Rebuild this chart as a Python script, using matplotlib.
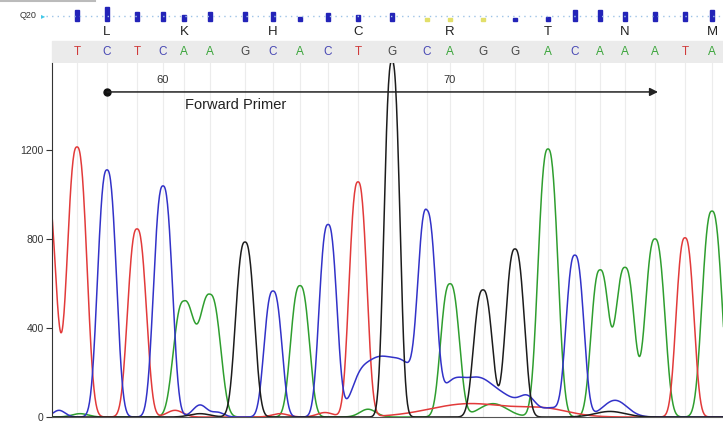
import numpy as np
import matplotlib
matplotlib.use("Agg")
import matplotlib.pyplot as plt
import matplotlib.transforms as mtransforms
from matplotlib.patches import Rectangle
from matplotlib.lines import Line2D

plt.rcParams['font.family'] = ['Liberation Sans', 'DejaVu Sans']

# base calls, scan position of each call, first base number
sequence = "TCTCAAGCACTGCAGGACAAATA"
base_scan = [77, 107, 137, 163, 184, 210, 245, 273, 300, 328, 358, 392,
             427, 450, 483, 515, 548, 575, 600, 625, 655, 685, 712]
first_base = 57

# called peak heights and widths (one per base)
peak_height = [1213, 1110, 845, 1038, 520, 550, 786, 566, 590, 863, 1055, 1600,
               840, 598, 571, 755, 1204, 724, 660, 672, 800, 805, 925]
peak_width = [9.5, 9.0, 9.0, 9.0, 10.2, 10.2, 9.0, 8.5, 9.0, 8.5, 8.5, 7.5,
              8.5, 9.0, 9.0, 9.0, 9.5, 8.5, 8.6, 9.3, 9.5, 8.5, 9.5]

# quality per base
quality = [44, 56, 36, 32, 24, 32, 32, 32, 14, 28, 24, 28,
           8, 8, 8, 12, 16, 40, 40, 32, 36, 36, 44]

# translation
amino = ['L', 'K', 'H', 'C', 'R', 'T', 'N', 'M']
amino_base = [1, 4, 7, 10, 13, 16, 19, 22]

# numbered bases
number_ticks = [60, 70]

# primer span (base index start/end)
primer_start = 1
primer_end = 20
primer_level = 1460

# partial peak at the left edge: (scan, height, width)
edge_peaks = {'T': [(46, 1050, 9.5)]}

# low background signal: (scan, height, width)
background = {
    'T': [(175, 30, 8), (280, 15, 8), (325, 20, 8), (470, 60, 40), (545, 32, 25)],
    'C': [(59, 30, 6), (200, 54, 7), (218, 20, 6), (358, 70, 8),
          (375, 230, 15), (405, 215, 15), (452, 140, 12), (478, 150, 14),
          (505, 80, 15), (528, 70, 8), (552, 40, 10), (615, 75, 12)],
    'A': [(80, 15, 8), (368, 35, 8), (493, 60, 14)],
    'G': [(200, 15, 10), (610, 25, 15)],
}

colors = {'T': '#e23a3a', 'C': '#3232c8', 'A': '#2f9e2f', 'G': '#1c1c1c'}
text_colors = {'T': '#d03a3a', 'C': '#4848b4', 'A': '#3aa53a', 'G': '#484848'}

scan = np.arange(36, 724, 0.5)
shape = 2.6  # peak shape exponent (2 = gaussian)


def peak(s, h, w, p):
    return h * np.exp(-0.5 * np.abs((scan - s) / w) ** p)


def trace(base):
    y = np.zeros_like(scan)
    for s, h, w, b in zip(base_scan, peak_height, peak_width, sequence):
        if b == base:
            y += peak(s, h, w, shape)
    for s, h, w in edge_peaks.get(base, []):
        y += peak(s, h, w, shape)
    for s, h, w in background[base]:
        y += peak(s, h, w, 2)
    return y


fig = plt.figure(figsize=(7.23, 4.24), dpi=100)
ax = fig.add_axes([52 / 723, 7 / 424, 671 / 723, 354 / 424])

# faint lines at each base call
for s in base_scan:
    ax.axvline(s, color='#ececec', lw=0.8, zorder=0)

for b in ['A', 'T', 'C', 'G']:
    ax.plot(scan, trace(b), color=colors[b], lw=1.1)

ax.set_xlim(52, 723)
ax.set_ylim(0, 1590)
ax.set_yticks([0, 400, 800, 1200])
ax.set_xticks([])
ax.tick_params(axis='y', labelsize=7.5, colors='#333333', length=4, width=0.8, pad=2)
for side in ['top', 'right']:
    ax.spines[side].set_visible(False)
ax.spines['left'].set_color('#333333')
ax.spines['bottom'].set_color('#555555')

# base numbers
for n in number_ticks:
    ax.text(base_scan[n - first_base], 1515, str(n), fontsize=8, color='#333333',
            ha='center', va='center')

# forward primer arrow
ax.annotate('', xy=(base_scan[primer_end] + 3, primer_level),
            xytext=(base_scan[primer_start], primer_level),
            arrowprops=dict(arrowstyle='-|>', color='#222222', lw=1.1,
                            mutation_scale=12, shrinkA=0, shrinkB=0))
ax.plot(base_scan[primer_start], primer_level, 'o', color='#111111', ms=5)
ax.text(185, 1402, 'Forward Primer', fontsize=10.5, color='#222222',
        ha='left', va='center')

# header rows above the traces
trans = mtransforms.blended_transform_factory(ax.transData, ax.transAxes)
px = 1 / 354

fig.patches.append(Rectangle((52 / 723, (424 - 63) / 424), 671 / 723, 22 / 424,
                             transform=fig.transFigure, color='#ebebeb', zorder=-1))
for s, b in zip(base_scan, sequence):
    ax.text(s, (417 - 52) * px, b, transform=trans, fontsize=8.5, color=text_colors[b],
            ha='center', va='center', clip_on=False)

for a, i in zip(amino, amino_base):
    ax.text(base_scan[i], (417 - 32) * px, a, transform=trans, fontsize=9.5,
            color='#222222', ha='center', va='center', clip_on=False)

q_y = 1 - 16 / 424
fig.lines.append(Line2D([46 / 723, 1], [q_y, q_y], transform=fig.transFigure,
                        color='#9ec3e6', lw=1.0, ls=(0, (1, 3))))
fig.lines.append(Line2D([0, 95 / 723], [1 - 1 / 424, 1 - 1 / 424], transform=fig.transFigure,
                        color='#bbbbbb', lw=1.5))
fig.text(20 / 723, q_y, 'Q20', fontsize=6.5, color='#333333', ha='left', va='center')
fig.text(43 / 723, q_y, '\u25b8', fontsize=6, color='#40c8e8', ha='center', va='center',
         family='DejaVu Sans')
for s, q in zip(base_scan, quality):
    c = '#e2df6a' if q < 10 else '#2323b8'
    h = q * 0.25
    ax.add_patch(Rectangle((s - 1.6, (417 - 20.5) * px), 3.2, h * px, transform=trans,
                           color=c, clip_on=False))

fig.savefig('out.png', dpi=100)
